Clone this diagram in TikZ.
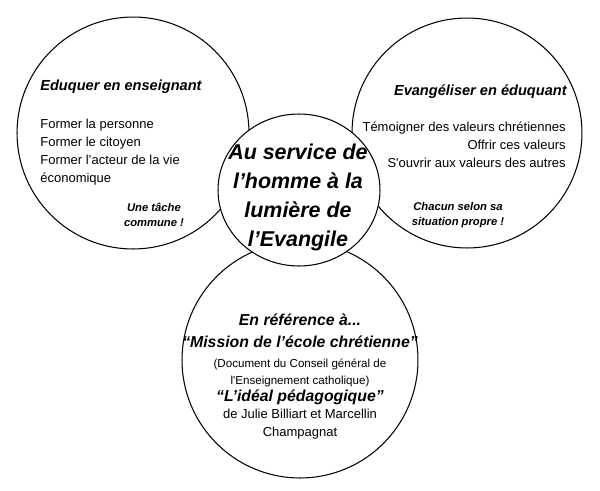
\documentclass[tikz,border=0pt]{standalone}
\usepackage{fontspec}
\setmainfont{Liberation Sans}
\usepackage{tikz}
\usetikzlibrary{positioning,shapes.geometric}
\tikzset{
  ring/.style={circle,draw,line width=0.6pt,inner sep=0pt,outer sep=0pt},
  hubring/.style={ellipse,draw,fill=white,line width=0.6pt,inner sep=0pt,
    outer sep=0pt},
  hubtxt/.style={font=\fontsize{12.2}{16.5}\selectfont\bfseries\itshape,
    align=center,inner sep=0pt},
  headtxt/.style={font=\fontsize{8.3}{10}\selectfont\bfseries\itshape,
    inner sep=0pt},
  bodytxt/.style={font=\fontsize{7.4}{10.2}\selectfont,inner sep=0pt},
  notetxt/.style={font=\fontsize{6.4}{8.6}\selectfont\bfseries\itshape,
    align=center,inner sep=0pt},
  reftxt/.style={font=\fontsize{9}{12.4}\selectfont\bfseries\itshape,
    align=center,inner sep=0pt},
  smalltxt/.style={font=\fontsize{6.6}{9.6}\selectfont,align=center,
    inner sep=0pt}
}
\begin{document}
\begin{tikzpicture}[x=0.02cm,y=-0.02cm]
  \useasboundingbox (0,0) rectangle (600,491);
  % the three outer circles, then the centre one on top
  \node[ring,minimum size=4.64cm] (teach) at (133,133) {};
  \node[ring,minimum size=4.6cm]  (evang) at (467,133) {};
  \node[ring,minimum size=4.72cm] (ref)   at (300,360) {};
  \node[hubring,minimum width=3.24cm,minimum height=3.04cm] (hub) at (299,190) {};
  \node[hubtxt] (hubtext) at (298,197)
    {Au service de\\l’homme à la\\lumière de\\l’Evangile};
  % left circle
  \node[headtxt,anchor=west] (teachhead) at (40,87) {Eduquer en enseignant};
  \node[bodytxt,align=left,anchor=west] (teachbody) at (40,152)
    {Former la personne\\Former le citoyen\\Former l’acteur de la vie\\économique};
  \node[notetxt] (teachnote) at (154,215) {Une tâche\\commune !};
  % right circle
  \node[headtxt,anchor=east] (evanghead) at (567,92) {Evangéliser en éduquant};
  \node[bodytxt,align=right,anchor=east] (evangbody) at (566,145)
    {Témoigner des valeurs chrétiennes\\Offrir ces valeurs\\S\textquotesingle ouvrir aux valeurs des autres};
  \node[notetxt] (evangnote) at (458,215) {Chacun selon sa\\situation propre !};
  % bottom circle
  \node[reftxt] (refhead) at (300,331)
    {En référence à...\\“Mission de l’école chrétienne”};
  \node[smalltxt] (refdoc) at (300,373)
    {(Document du Conseil général de\\l\textquotesingle Enseignement catholique)};
  \node[reftxt] (refideal) at (300,397) {“L’idéal pédagogique”};
  \node[bodytxt,align=center] (refnames) at (300,424)
    {de Julie Billiart et Marcellin\\Champagnat};
\end{tikzpicture}
\end{document}
